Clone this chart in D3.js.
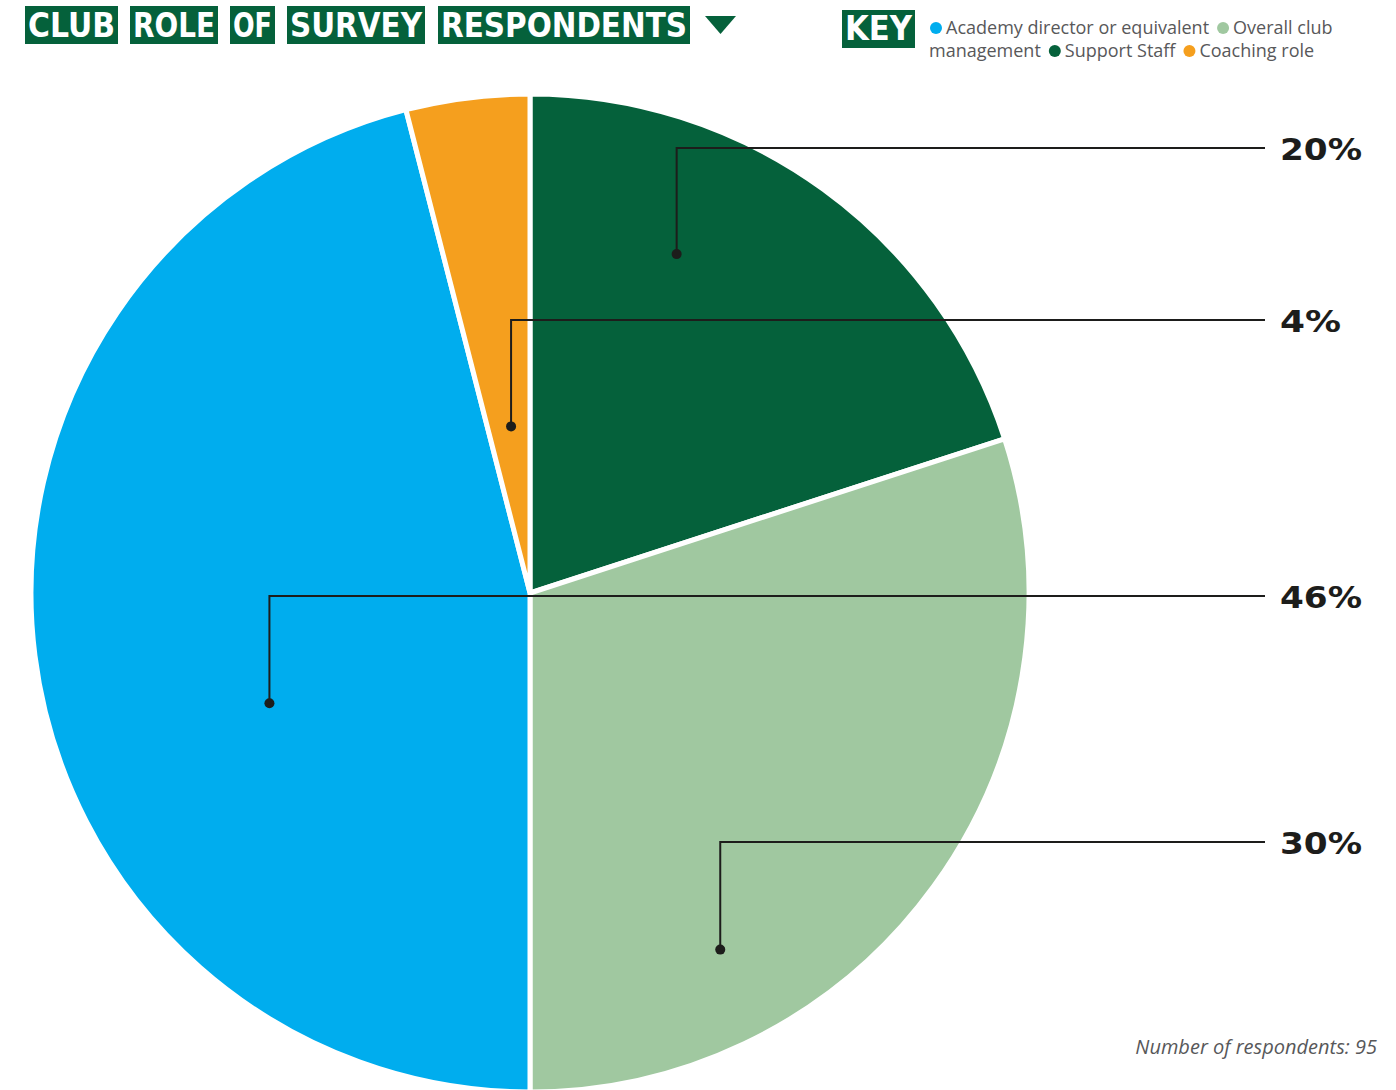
<!DOCTYPE html>
<html>
<head>
<meta charset="utf-8">
<script src="https://cdn.jsdelivr.net/npm/d3@7"></script>
<style>
  body { margin: 0; background: #fff; }
  svg { display: block; }
</style>
</head>
<body>
<svg id="chart"></svg>
<script>
// data
var roles = ["Support Staff", "Overall club management", "Academy director or equivalent", "Coaching role"];
var shares = [20, 30, 46, 4];
var colours = ["#05613b", "#a0c8a0", "#00adee", "#f59f1e"];
var legendOrder = ["Academy director or equivalent", "Overall club management", "Support Staff", "Coaching role"];
var titleWords = ["CLUB", "ROLE", "OF", "SURVEY", "RESPONDENTS"];
var respondents = 95;

var setup = {
  width: 1396,
  height: 1090,
  cx: 530,
  cy: 593,
  r: 499
};

// where each leader starts inside its slice (fraction along slice, fraction of radius) and row y
var leaders = [
  {t: 0.325, rf: 0.74, y: 148},
  {t: 0.74, rf: 0.81, y: 842},
  {t: 0.405, rf: 0.567, y: 596},
  {t: 0.55, rf: 0.336, y: 320}
];

var svg = d3.select("#chart")
  .attr("width", setup.width)
  .attr("height", setup.height);

var colour = d3.scaleOrdinal().domain(roles).range(colours);

var pie = d3.pie().sort(null).value(d => d.v);
var arcs = pie(roles.map((r, i) => ({role: r, v: shares[i]})));

var arc = d3.arc().innerRadius(0).outerRadius(setup.r);

var g = svg.append("g")
  .attr("transform", "translate(" + [setup.cx, setup.cy] + ")");

g.selectAll("path.slice")
  .data(arcs)
  .enter().append("path")
  .attr("class", "slice")
  .attr("d", arc)
  .attr("fill", d => colour(d.data.role))
  .attr("stroke", "#fff")
  .attr("stroke-width", 5)
  .attr("stroke-linejoin", "miter");

// leaders + labels
var lineEnd = 1265;
arcs.forEach(function(d, i) {
  var L = leaders[i];
  var a = d.startAngle + (d.endAngle - d.startAngle) * L.t;
  var px = setup.cx + Math.sin(a) * setup.r * L.rf;
  var py = setup.cy - Math.cos(a) * setup.r * L.rf;
  svg.append("path")
    .attr("d", "M" + px + "," + py + "V" + L.y + "H" + lineEnd)
    .attr("fill", "none")
    .attr("stroke", "#1d1d1b")
    .attr("stroke-width", 2);
  svg.append("circle")
    .attr("cx", px).attr("cy", py).attr("r", 5)
    .attr("fill", "#1d1d1b");
  var label = d.data.v + "%";
  svg.append("text")
    .attr("x", 1280)
    .attr("y", L.y + 12)
    .attr("textLength", label.length === 3 ? 82 : 61)
    .attr("lengthAdjust", "spacingAndGlyphs")
    .attr("font-family", "DejaVu Sans")
    .attr("font-weight", "bold")
    .attr("font-size", 31)
    .attr("fill", "#1d1d1b")
    .text(label);
});

// title words in green boxes
var titleBoxes = [[25, 118], [130, 218], [230, 275], [287, 425], [438, 690]];
titleWords.forEach(function(w, i) {
  var b = titleBoxes[i];
  svg.append("rect")
    .attr("x", b[0]).attr("y", 6)
    .attr("width", b[1] - b[0]).attr("height", 38)
    .attr("fill", "#05613b");
  svg.append("text")
    .attr("x", b[0] + 3).attr("y", 37)
    .attr("textLength", b[1] - b[0] - 6)
    .attr("lengthAdjust", "spacingAndGlyphs")
    .attr("font-family", "DejaVu Sans")
    .attr("font-weight", "bold")
    .attr("font-size", 33)
    .attr("fill", "#fff")
    .text(w);
});
svg.append("path")
  .attr("d", "M705,16H736L720.5,34Z")
  .attr("fill", "#05613b");

// key
svg.append("rect")
  .attr("x", 842).attr("y", 10)
  .attr("width", 73).attr("height", 38)
  .attr("fill", "#05613b");
svg.append("text")
  .attr("x", 845).attr("y", 40)
  .attr("textLength", 67)
  .attr("lengthAdjust", "spacingAndGlyphs")
  .attr("font-family", "DejaVu Sans")
  .attr("font-weight", "bold")
  .attr("font-size", 33)
  .attr("fill", "#fff")
  .text("KEY");

var keyLines = [
  [{dot: legendOrder[0], text: "Academy director or equivalent"}, {dot: legendOrder[1], text: "Overall club"}],
  [{dot: null, text: "management"}, {dot: legendOrder[2], text: "Support Staff"}, {dot: legendOrder[3], text: "Coaching role"}]
];
var keyY = [34, 57];
var keyX = [930, 929];
keyLines.forEach(function(line, li) {
  var x = keyX[li];
  line.forEach(function(item, j) {
    if (item.dot) {
      svg.append("circle")
        .attr("cx", x + 6).attr("cy", keyY[li] - 6).attr("r", 6)
        .attr("fill", colour(item.dot));
      x += 16;
    }
    var t = svg.append("text")
      .attr("x", x).attr("y", keyY[li])
      .attr("font-family", "Open Sans")
      .attr("font-size", 18)
      .attr("fill", "#58585a")
      .text(item.text);
    x += t.node().getComputedTextLength() + 8;
  });
});

// footnote
svg.append("text")
  .attr("x", 1377).attr("y", 1054)
  .attr("text-anchor", "end")
  .attr("font-family", "Open Sans")
  .attr("font-style", "italic")
  .attr("font-size", 20)
  .attr("fill", "#58585a")
  .text("Number of respondents: " + respondents);
</script>
</body>
</html>
